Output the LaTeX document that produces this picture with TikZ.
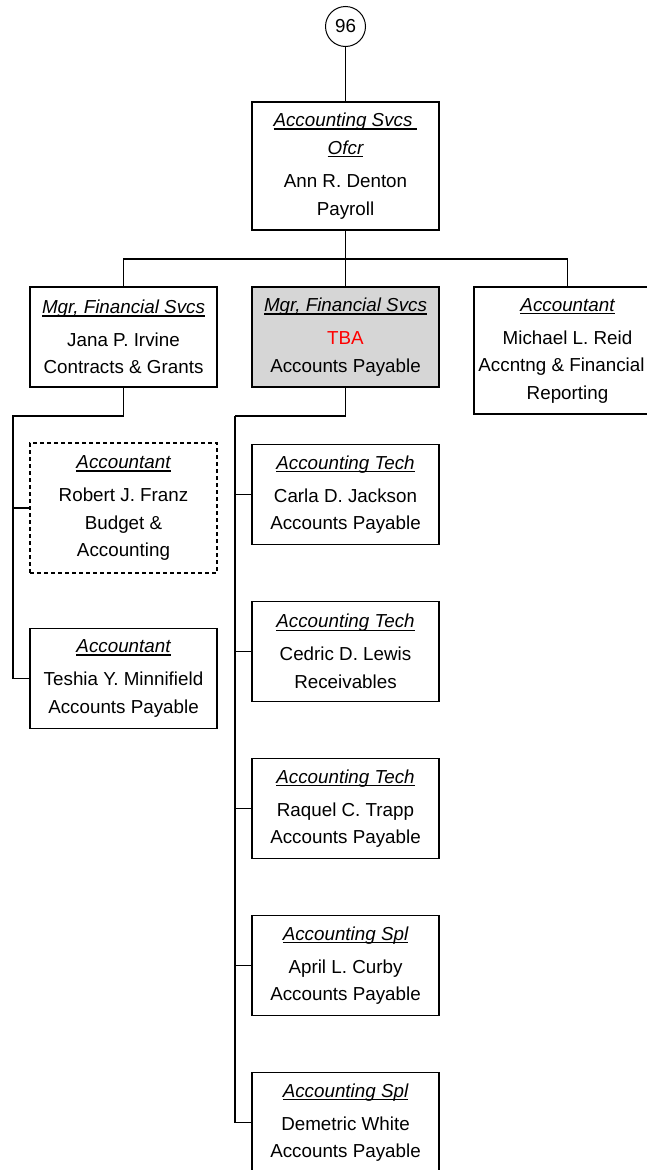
\documentclass[tikz,border=0pt]{standalone}
\usepackage{fontspec}
\setmainfont{Liberation Sans}
\newcommand{\ttl}[1]{\sbox0{\itshape #1}\usebox0\kern-\wd0\rule[-3.2pt]{\wd0}{1.6pt}}
\definecolor{vacantgray}{RGB}{214,214,214}
\tikzset{
  posbox/.style={draw, line width=1.5pt, minimum width=187pt, minimum height=100pt,
    inner sep=0pt, align=center, font=\fontsize{18.8}{27.5}\selectfont},
  vacant/.style={posbox, fill=vacantgray},
  detail/.style={posbox, dash pattern=on 4pt off 3pt},
  link/.style={line width=1.5pt},
}

\begin{document}
\begin{tikzpicture}[x=1pt, y=-1pt]
  \useasboundingbox (0,0) rectangle (647,1170);
  % page reference and head
  \node[circle, draw, line width=1pt, minimum size=40pt, inner sep=0pt,
    font=\fontsize{18.8}{22}\selectfont] (ref) at (345.5,26.5) {96};
  \node[posbox, minimum height=128pt] (ofcr) at (345.5,166)
    {\ttl{Accounting Svcs\kern5pt}\\ \ttl{Ofcr}\\[6pt] Ann R. Denton\\ Payroll};
  % second level
  \node[posbox] (mgrfs) at (123.5,337)
    {\ttl{Mgr, Financial Svcs}\\[5.5pt] Jana P. Irvine\\ Contracts \& Grants};
  \node[vacant] (mgrap) at (345.5,337)
    {\ttl{Mgr, Financial Svcs}\\[5.5pt] \textcolor{red}{TBA}\\ Accounts Payable};
  \node[posbox, minimum height=127pt] (reid) at (567.5,350.5)
    {\ttl{Accountant}\\[5.5pt] Michael L. Reid\\ \kern-12pt Accntng \& Financial\\ Reporting};
  % left staff
  \node[detail, minimum height=130pt] (franz) at (123.5,508)
    {\ttl{Accountant}\\[5.5pt] Robert J. Franz\\ Budget \&\\ Accounting};
  \node[posbox] (teshia) at (123.5,678.5)
    {\ttl{Accountant}\\[5.5pt] Teshia Y. Minnifield\\ Accounts Payable};
  % connectors
  \coordinate (topbus) at (345.5,259);
  \coordinate (lbus) at (13,416);
  \coordinate (mbus) at (235,416);
  \draw[link] (ref) -- (ofcr);
  \draw[link] (ofcr) -- (mgrap);
  \draw[link] (mgrfs.north) |- (topbus) -| (reid.north);
  \draw[link] (mgrfs.south) |- (lbus) |- (franz.west);
  \draw[link] (lbus) |- (teshia.west);
  \draw[link] (mgrap.south) |- (mbus);
  % accounts payable staff
  \foreach \n/\y/\job/\who/\dept in {
      carla/494.5/Accounting Tech/Carla D. Jackson/Accounts Payable,
      cedric/651.5/Accounting Tech/Cedric D. Lewis/Receivables,
      raquel/808.5/Accounting Tech/Raquel C. Trapp/Accounts Payable,
      april/965.5/Accounting Spl/April L. Curby/Accounts Payable,
      demetric/1122.5/Accounting Spl/Demetric White/Accounts Payable} {
    \node[posbox] (\n) at (345.5,\y) {\ttl{\job}\\[5.5pt] \who\\ \dept};
    \draw[link] (mbus) |- (\n.west);
  }
\end{tikzpicture}
\end{document}
